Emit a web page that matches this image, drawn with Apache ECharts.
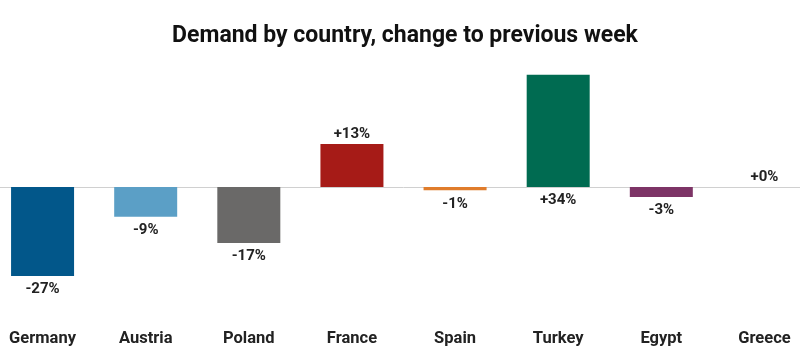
<!DOCTYPE html>
<html>
<head>
<meta charset="utf-8">
<script src="https://cdn.jsdelivr.net/npm/echarts@6/dist/echarts.min.js"></script>
<style>html,body{margin:0;padding:0;background:#fff;overflow:hidden;}#c{position:absolute;left:-9px;top:0;width:825px;height:363px;}</style>
</head>
<body>
<div id="c"></div>
<script>
const categories = ['Germany','Austria','Poland','France','Spain','Turkey','Egypt','Greece'];
const values = [-27, -9, -17, 13, -1, 34, -3, 0];
const labels = ['-27%','-9%','-17%','+13%','-1%','+34%','-3%','+0%'];
const colors = ['#02578a','#5b9fc6','#6a6968','#a61b17','#e07c2b','#006b51','#7d3466','#999999'];
const labelPos = ['bottom','bottom','bottom','top','bottom','bottom','bottom','top'];

const chart = echarts.init(document.getElementById('c'));
const font = 'Roboto, "Noto Sans", sans-serif';
chart.setOption({
  animation: false,
  title: {
    text: 'Demand by country, change to previous week',
    left: 409, top: 20, textAlign: 'center',
    textStyle: { fontFamily: font, fontWeight: 'bold', fontSize: 23, color: '#111' }
  },
  grid: { left: 0, right: 0, top: 68.2, bottom: 363 - 286, containLabel: false },
  xAxis: {
    type: 'category', data: categories,
    axisLine: { show: false }, axisTick: { show: false },
    position: 'bottom',
    axisLabel: { fontFamily: font, fontWeight: 'bold', fontSize: 16.5, color: '#222', margin: 44 }
  },
  yAxis: {
    type: 'value', min: -30, max: 36,
    axisLabel: { show: false }, axisTick: { show: false },
    axisLine: { show: false },
    splitLine: { show: false }
  },
  series: [{
    type: 'bar',
    barWidth: 63,
    data: values.map((v, i) => ({
      value: v,
      itemStyle: { color: colors[i] },
      label: {
        show: true, position: labelPos[i],
        distance: labelPos[i] === 'top' ? 2 : 6,
        formatter: labels[i],
        fontFamily: font, fontWeight: 'bold', fontSize: 15, color: '#222'
      }
    })),
    markLine: {
      silent: true, symbol: 'none',
      label: { show: false },
      lineStyle: { color: '#d0d0d0', type: 'solid', width: 1 },
      data: [{ yAxis: 0 }],
      z: 1
    }
  }]
});
</script>
</body>
</html>
